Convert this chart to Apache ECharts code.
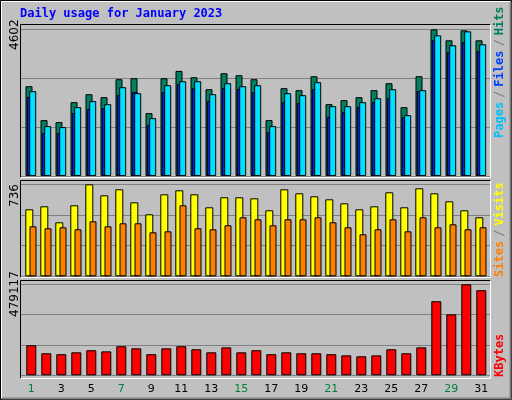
<!DOCTYPE html>
<html><head><meta charset="utf-8">
<script src="https://cdn.jsdelivr.net/npm/echarts@6/dist/echarts.min.js"></script>
<style>html,body{margin:0;padding:0;background:#c0c0c0}#c{width:512px;height:400px}</style>
</head><body><div id="c"></div>
<script>
const days = ['1','2','3','4','5','6','7','8','9','10','11','12','13','14','15','16','17','18','19','20','21','22','23','24','25','26','27','28','29','30','31'];
const weekend = ['1','7','8','14','15','21','22','28','29'];
const hits = [2811,1749,1687,2311,2561,2468,3030,3061,1968,3061,3290,3092,2717,3217,3155,3030,1749,2749,2686,3123,2249,2374,2468,2686,2905,2155,3123,4592,4248,4560,4248];
const files = [2655,1562,1531,2155,2343,2249,2780,2592,1812,2842,2967,2967,2561,2905,2811,2842,1562,2592,2530,2936,2186,2186,2311,2436,2717,1905,2686,4404,4092,4529,4123];
const pages = [2468,1343,1343,1968,2093,2124,2530,2624,1593,2624,2874,2749,2343,2749,2717,2624,1374,2311,2280,2717,1843,1999,2155,2311,2436,1843,2655,4248,3873,4186,3904];
const visits = [536,560,432,568,736,648,696,592,496,656,688,656,552,632,632,624,528,696,664,640,616,584,536,560,672,552,704,664,600,528,472];
const sites = [400,384,392,376,440,400,424,424,352,360,568,384,376,408,472,456,408,456,456,472,432,392,336,376,456,360,472,392,416,376,392];
const kbytes = [158000,116000,111000,121000,132000,126000,153000,142000,111000,142000,153000,137000,121000,147000,121000,132000,111000,121000,116000,116000,111000,105000,100000,105000,137000,116000,147000,390000,321000,479117,448000];
const maxHits = 4602, maxVisits = 736, maxKB = 479117;

const grids=[], xAxes=[], yAxes=[], series=[];
function addGrid(top,height,left,width,max,split,labels){
  const i=grids.length;
  grids.push({left:left,top:top,width:width,height:height});
  xAxes.push({type:'category',gridIndex:i,data:days,axisLine:{show:false},axisTick:{show:false},
    axisLabel:labels?{show:true,margin:8,fontFamily:'DejaVu Sans',fontSize:11,
      color:(v)=>weekend.includes(v)?'#008040':'#000'}:{show:false}});
  yAxes.push({type:'value',gridIndex:i,min:0,max:max,interval:max/3,axisLine:{show:false},axisTick:{show:false},axisLabel:{show:false},
    splitLine:{show:split,lineStyle:{color:'#808080',width:1}}});
  return i;
}
function bar(gi,data,color,w){
  series.push({type:'bar',xAxisIndex:gi,yAxisIndex:gi,data:data,barWidth:w,barGap:'0%',silent:true,animation:false,
    itemStyle:{color:color,borderColor:'#000',borderWidth:1}});
}
const L=23.8, W=465;
// top panel
addGrid(29,147,20,470,maxHits,true,false);
bar(addGrid(29,147,L-2.3,W,maxHits,false,false),hits,'#008060',7);
bar(addGrid(29,147,L-1.5,W,maxHits,false,false),pages,'#0020ff',6);
bar(addGrid(29,147,L+1.4,W,maxHits,false,false),files,'#00e0ff',7);
// middle
addGrid(184.3,92,20,470,maxVisits,true,false);
bar(addGrid(184.3,92,L-2,W,maxVisits,false,false),visits,'#ffff00',8);
bar(addGrid(184.3,92,L+1.7,W,maxVisits,false,false),sites,'#ff8000',7);
// bottom
addGrid(284.3,91,20,470,maxKB,true,false);
bar(addGrid(284.3,91,L,W,maxKB,false,true),kbytes,'#ff0000',10);

function frame(x1,y1,x2,y2){
  return [
    {type:'polyline',shape:{points:[[x1,y2],[x1,y1],[x2,y1]]},style:{stroke:'#000',fill:null,lineWidth:1},z:10},
    {type:'polyline',shape:{points:[[x2,y1],[x2,y2],[x1,y2]]},style:{stroke:'#fff',fill:null,lineWidth:1},z:10}
  ];
}
const mono='DejaVu Sans Mono';
const graphic=[
  {type:'rect',shape:{x:0.5,y:0.5,width:511,height:399},style:{fill:null,stroke:'#000',lineWidth:1},z:11},
  {type:'polyline',shape:{points:[[1.5,398],[1.5,1.5],[510,1.5]]},style:{stroke:'#fff',fill:null,lineWidth:1},z:11},
  {type:'polyline',shape:{points:[[510.5,2],[510.5,398.5],[2,398.5]]},style:{stroke:'#808080',fill:null,lineWidth:2},z:11},
  ...frame(20.5,24.5,490.5,177.5),
  ...frame(20.5,180.5,490.5,277.5),
  ...frame(20.5,280.5,490.5,378.5),
  {type:'text',left:20,top:8,style:{text:'Daily usage for January 2023',fill:'#0000ff',font:'bold 12px "DejaVu Sans Mono"'}},
  {type:'text',x:9,y:50,rotation:Math.PI/2,style:{text:String(maxHits),fill:'#000',font:'12px "DejaVu Sans"'}},
  {type:'text',x:9,y:207,rotation:Math.PI/2,style:{text:String(maxVisits),fill:'#000',font:'12px "DejaVu Sans"'}},
  {type:'text',x:9,y:317,rotation:Math.PI/2,style:{text:String(maxKB),fill:'#000',font:'12px "DejaVu Sans"'}},
  {type:'text',x:494,y:138,rotation:Math.PI/2,style:{text:'{a|Pages}{s|/}{b|Files}{s|/}{c|Hits}',
    rich:{a:{fill:'#00c0ff',font:'bold 12px "'+mono+'"'},s:{fill:'#808080',font:'bold 12px "'+mono+'"',padding:[0,4]},
    b:{fill:'#0040ff',font:'bold 12px "'+mono+'"'},c:{fill:'#008060',font:'bold 12px "'+mono+'"'}}}},
  {type:'text',x:494,y:277,rotation:Math.PI/2,style:{text:'{a|Sites}{s|/}{b|Visits}',
    rich:{a:{fill:'#ff8000',font:'bold 12px "'+mono+'"'},s:{fill:'#808080',font:'bold 12px "'+mono+'"',padding:[0,4]},
    b:{fill:'#ffff00',font:'bold 12px "'+mono+'"'}}}},
  {type:'text',x:494,y:377,rotation:Math.PI/2,style:{text:'KBytes',fill:'#ff0000',font:'bold 12px "'+mono+'"'}}
];
const chart=echarts.init(document.getElementById('c'),null,{renderer:'canvas'});
chart.setOption({backgroundColor:'#c0c0c0',animation:false,grid:grids,xAxis:xAxes,yAxis:yAxes,series:series,graphic:graphic});
</script></body></html>
